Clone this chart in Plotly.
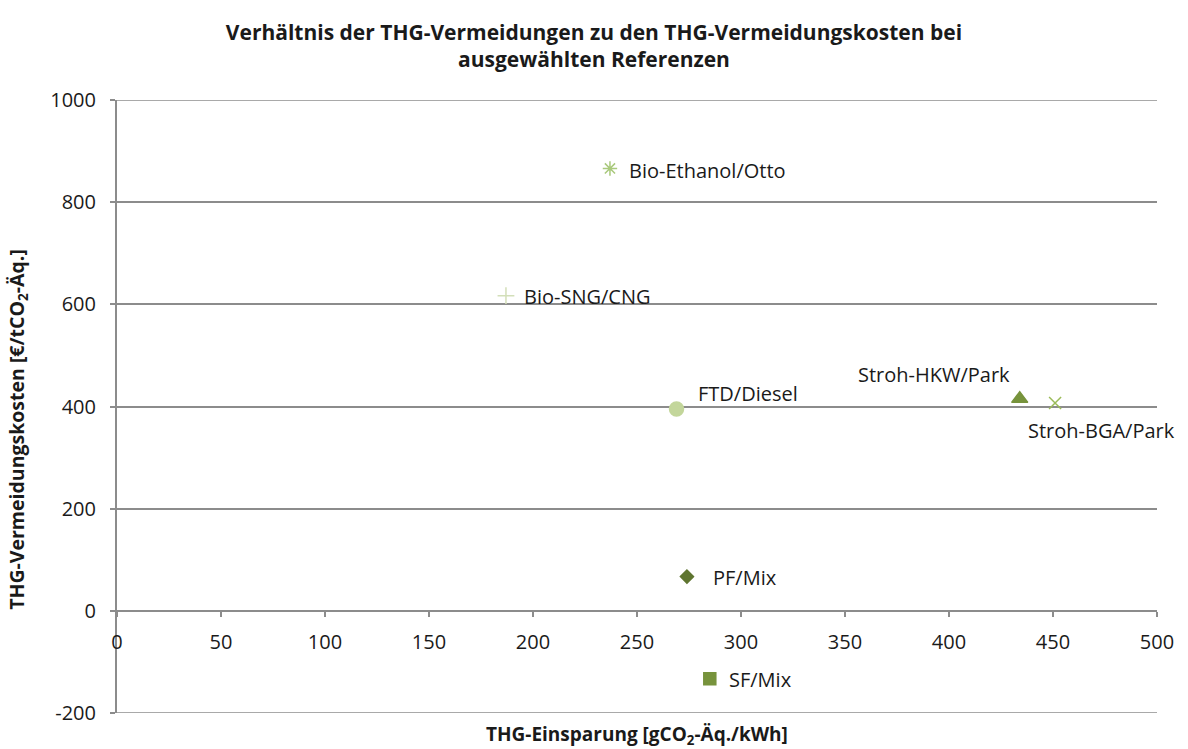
import plotly.graph_objects as go

# THG-Einsparung (x) und THG-Vermeidungskosten (y) je Referenz
names = ["Bio-Ethanol/Otto", "Bio-SNG/CNG", "FTD/Diesel", "Stroh-HKW/Park",
         "Stroh-BGA/Park", "PF/Mix", "SF/Mix"]
einsparung = [237, 187, 269, 434, 451, 274, 285]
kosten = [866, 617, 395, 415, 407, 67, -133]

symbols = ["asterisk-open", "cross-thin-open", "circle", "triangle-up",
           "x-thin-open", "diamond", "square"]
colors = ["#a9c97c", "#d3dfb9", "#c3d69b", "#77933c", "#9bbb59", "#5f7530", "#77933c"]
sizes = [12, 12, 14, 14, 12, 10, 12]

# label placement relative to each marker: (xanchor, xshift, yshift)
label_pos = [("left", 17, -2), ("left", 16, -1), ("left", 19, 16), ("right", -8, 24),
             ("left", -29, -28), ("left", 24, -1), ("left", 17, -1)]

x_ticks = list(range(0, 501, 50))
y_ticks = list(range(-200, 1001, 200))
y_ticktext = [str(v) for v in y_ticks]

font = "Open Sans, Noto Sans, sans-serif"
grid = "#8c8c8c"
ink = "#1a1a1a"
fig = go.Figure()

for n, xv, yv, s, c, sz in zip(names, einsparung, kosten, symbols, colors, sizes):
    fig.add_trace(go.Scatter(
        x=[xv], y=[yv], mode="markers", name=n, showlegend=False,
        marker=dict(symbol=s, color=c, size=sz, line=dict(color=c, width=1.5)),
    ))

for n, xv, yv, (xa, dx, dy) in zip(names, einsparung, kosten, label_pos):
    fig.add_annotation(x=xv, y=yv, xref="x", yref="y", text=n, showarrow=False,
                       xanchor=xa, yanchor="middle", xshift=dx, yshift=dy,
                       font=dict(family=font, size=20, color=ink))

# gridlines at the upper and lower edge of the value range
for edge in (y_ticks[0], y_ticks[-1]):
    fig.add_shape(type="line", xref="paper", yref="y", x0=0, x1=1, y0=edge, y1=edge,
                  line=dict(color=grid, width=1.5), layer="below")

fig.update_layout(
    width=1188, height=749,
    margin=dict(l=117, r=31, t=100, b=36),
    paper_bgcolor="white", plot_bgcolor="white",
    title=dict(
        text="Verhältnis der THG-Vermeidungen zu den THG-Vermeidungskosten bei<br>ausgewählten Referenzen",
        x=0.5, xanchor="center", y=0.947, yanchor="top",
        font=dict(family=font, size=21, color=ink, weight="bold"),
    ),
    font=dict(family=font, size=20, color=ink),
)

fig.update_xaxes(
    range=[0, 500], tickvals=x_ticks, showgrid=False, zeroline=False,
    showline=True, linecolor=grid, linewidth=2,
    ticks="outside", ticklen=5, tickcolor=grid, tickwidth=1.5, ticklabelstandoff=8,
    anchor="free", position=(0 - y_ticks[0]) / (y_ticks[-1] - y_ticks[0]),
    tickfont=dict(family=font, size=20, color=ink),
)
fig.update_yaxes(
    range=[-200, 1000], tickvals=y_ticks, ticktext=y_ticktext,
    showgrid=True, gridcolor=grid, gridwidth=1.5, zeroline=False,
    showline=True, linecolor=grid, linewidth=2,
    ticks="outside", ticklen=5, tickcolor=grid, tickwidth=1.5, ticklabelstandoff=10,
    tickfont=dict(family=font, size=20, color=ink),
)

fig.add_annotation(x=0, xshift=-99, y=0.462, xref="paper", yref="paper", showarrow=False,
                   text="THG-Vermeidungskosten [€/tCO<sub>2</sub>-Äq.]", textangle=-90,
                   xanchor="center", yanchor="middle",
                   font=dict(family=font, size=19.5, color=ink, weight="bold"))
fig.add_annotation(x=0.5, y=-0.036, xref="paper", yref="paper", showarrow=False,
                   text="THG-Einsparung [gCO<sub>2</sub>-Äq./kWh]", yanchor="middle",
                   font=dict(family=font, size=19, color=ink, weight="bold"))

fig.write_html("out.html")
